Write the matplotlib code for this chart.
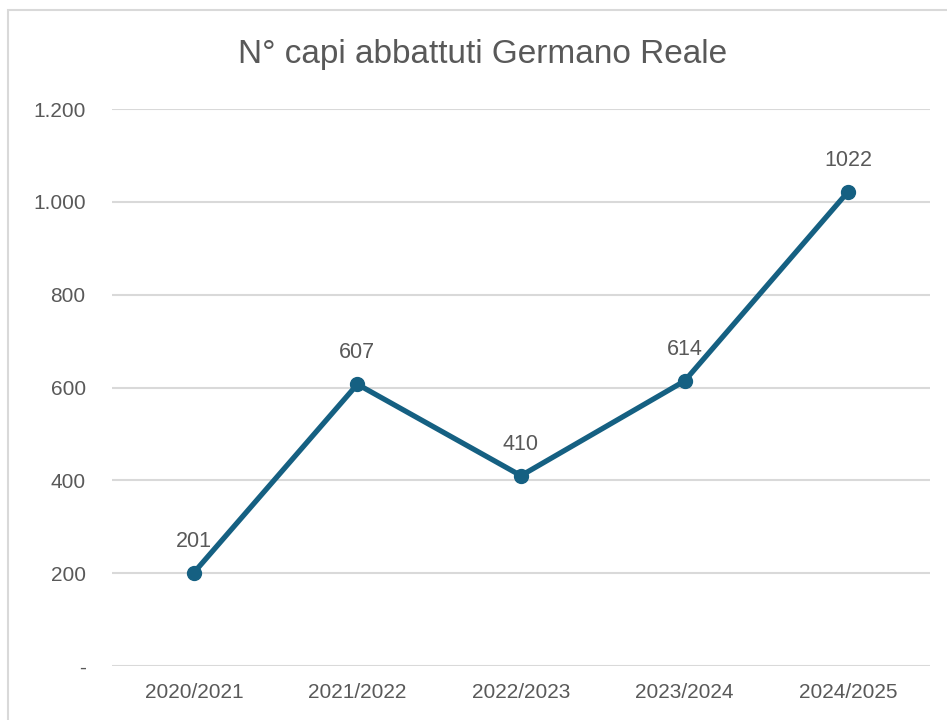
import matplotlib.pyplot as plt
from matplotlib.patches import Rectangle
from matplotlib.ticker import FuncFormatter

plt.rcParams['font.family'] = ['Liberation Sans', 'DejaVu Sans']

# dati
stagioni = ['2020/2021', '2021/2022', '2022/2023', '2023/2024', '2024/2025']
capi = [201, 607, 410, 614, 1022]

colore_linea = '#156082'
colore_testo = '#595959'

fig = plt.figure(figsize=(9.47, 7.2), dpi=100)
ax = fig.add_axes([0.1183, 0.075, 0.8637, 0.7736])

# bordo del grafico (stile Excel)
fig.patches.append(Rectangle((0.0084, -0.05), 1.1, 1.036, transform=fig.transFigure,
                             fill=False, edgecolor='#d9d9d9', linewidth=1.5))

x = list(range(len(stagioni)))
ax.plot(x, capi, color=colore_linea, linewidth=3.8, marker='o', markersize=10,
        solid_capstyle='round', zorder=3)

for xi, v in zip(x, capi):
    ax.annotate(str(v), (xi, v), xytext=(0, 15), textcoords='offset points',
                ha='center', va='bottom', fontsize=15.5, color=colore_testo)

ax.set_xlim(-0.5, len(stagioni) - 0.5)
ax.set_ylim(0, 1200)
ax.set_yticks(range(0, 1201, 200))
ax.yaxis.set_major_formatter(FuncFormatter(
    lambda v, p: '-' if v == 0 else f'{int(v):,}'.replace(',', '.')))
ax.set_xticks(x)
ax.set_xticklabels(stagioni)

ax.grid(axis='y', color='#d9d9d9', linewidth=1.5, zorder=0)
ax.set_axisbelow(True)
for s in ax.spines.values():
    s.set_visible(False)
ax.tick_params(axis='both', length=0, labelsize=15, labelcolor=colore_testo)
ax.tick_params(axis='x', pad=12)
ax.tick_params(axis='y', pad=19)

fig.text(0.51, 0.925, 'N° capi abbattuti Germano Reale', ha='center', va='center',
         fontsize=24, color=colore_testo)

fig.savefig('out.png', dpi=100)
